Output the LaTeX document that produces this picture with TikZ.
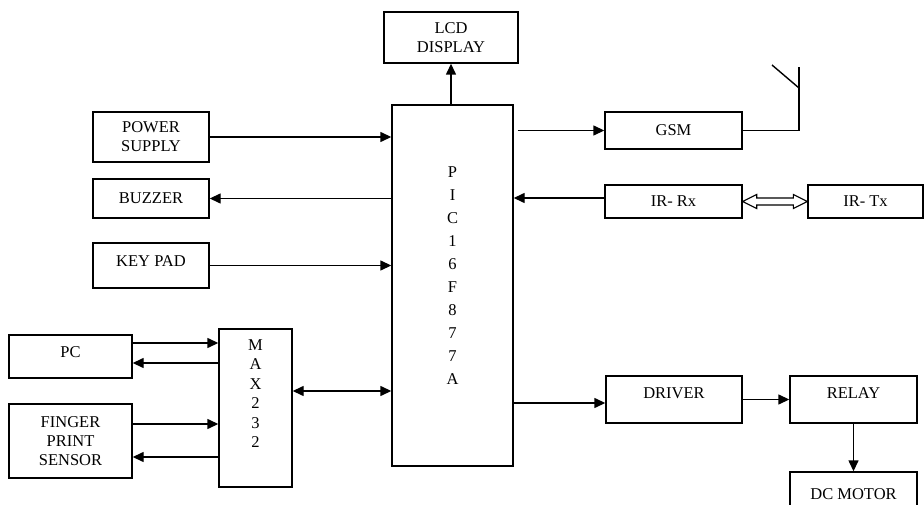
\documentclass[tikz,border=0pt]{standalone}
\usepackage{fontspec}
\setmainfont{Liberation Serif}
\usetikzlibrary{arrows.meta,calc}
\begin{document}
\begin{tikzpicture}[x=1pt,y=-1pt,
  every node/.style={font=\fontsize{16.5}{19}\selectfont},
  box/.style={draw, line width=1.4pt, align=center, inner sep=0pt},
  conn/.style={line width=1.4pt},
  arr/.style={conn, -{Triangle[length=11pt,width=10pt]}},
  darr/.style={conn, {Triangle[length=11pt,width=10pt]}-{Triangle[length=11pt,width=10pt]}}]
\useasboundingbox (0,0) rectangle (924,505);

% boxes
\node[box, minimum width=134pt, minimum height=51pt] (lcd) at (451,37.5) {LCD\\DISPLAY};
\node[box, minimum width=121pt, minimum height=361pt,
  label={[align=center, font=\fontsize{16.5}{23}\selectfont, yshift=9.5pt]center:P\\I\\C\\1\\6\\F\\8\\7\\7\\A}] (pic) at (452.5,285.5) {};
\node[box, minimum width=137pt, minimum height=37pt] (gsm) at (673.5,130.5) {GSM};
\node[box, minimum width=137pt, minimum height=33pt] (irrx) at (673.5,201.5) {IR- Rx};
\node[box, minimum width=115pt, minimum height=33pt] (irtx) at (865.5,201.5) {IR- Tx};
\node[box, minimum width=116pt, minimum height=50pt] (power) at (151,137) {POWER\\SUPPLY};
\node[box, minimum width=116pt, minimum height=39pt] (buzzer) at (151,198.5) {BUZZER};
\node[box, minimum width=116pt, minimum height=45pt,
  label={[yshift=4pt]center:KEY PAD}] (keypad) at (151,265.5) {};
\node[box, minimum width=123pt, minimum height=43pt,
  label={[yshift=4.5pt]center:PC}] (pc) at (70.5,356.5) {};
\node[box, minimum width=123pt, minimum height=74pt] (finger) at (70.5,441) {FINGER\\PRINT\\SENSOR};
\node[box, minimum width=73pt, minimum height=158pt,
  label={[align=center, font=\fontsize{16.5}{19.5}\selectfont, yshift=14.5pt]center:M\\A\\X\\2\\3\\2}] (max) at (255.5,408) {};
\node[box, minimum width=136pt, minimum height=47pt,
  label={[yshift=6.5pt]center:DRIVER}] (driver) at (674,399.5) {};
\node[box, minimum width=127pt, minimum height=47pt,
  label={[yshift=6.5pt]center:RELAY}] (relay) at (853.5,399.5) {};
\node[box, minimum width=127pt, minimum height=44pt] (dcmotor) at (853.5,494) {DC MOTOR};

% connectors
\draw[arr] (pic.north -| lcd.south) -- (lcd.south);
\draw[arr] (power.east) -- (power.east -| pic.west);
\draw[arr] (buzzer.east -| pic.west) -- (buzzer.east);
\draw[arr] (keypad.east) -- (keypad.east -| pic.west);

\coordinate (gsmout) at ($(pic.east |- gsm.west)+(4,0)$);
\draw[arr] (gsmout) -- (gsm.west);
\coordinate (ant) at (799,67);
\coordinate (antl) at (772,65);
\coordinate (antj) at (799,88);
\draw[conn] (gsm.east) -| (ant);
\draw[conn] (antl) -- (antj);

\coordinate (irin) at ($(irrx.west)+(0,-3.5)$);
\draw[arr] (irin) -- (irin -| pic.east);
\draw[line width=1.1pt, fill=white] (irrx.east) -- ++(14,-7) -- ++(0,3.5)
  -- ($(irtx.west)+(-14,-3.5)$) -- ++(0,-3.5) -- (irtx.west) -- ++(-14,7)
  -- ++(0,-3.5) -- ($(irrx.east)+(14,3.5)$) -- ++(0,3.5) -- cycle;

\coordinate (drin) at ($(driver.west)+(0,3.5)$);
\draw[arr] (drin -| pic.east) -- (drin);
\draw[arr] (driver.east) -- (relay.west);
\draw[arr] (relay.south) -- (dcmotor.north);

\coordinate (mp) at ($(max.east)+(0,-17)$);
\draw[darr] (mp) -- (mp -| pic.west);

\coordinate (pcin) at ($(pc.east)+(0,-13.5)$);
\coordinate (pcout) at ($(pc.east)+(0,6.5)$);
\draw[arr] (pcin) -- (pcin -| max.west);
\draw[arr] (pcout -| max.west) -- (pcout);
\coordinate (fpin) at ($(finger.east)+(0,-17)$);
\coordinate (fpout) at ($(finger.east)+(0,16)$);
\draw[arr] (fpin) -- (fpin -| max.west);
\draw[arr] (fpout -| max.west) -- (fpout);
\end{tikzpicture}
\end{document}
